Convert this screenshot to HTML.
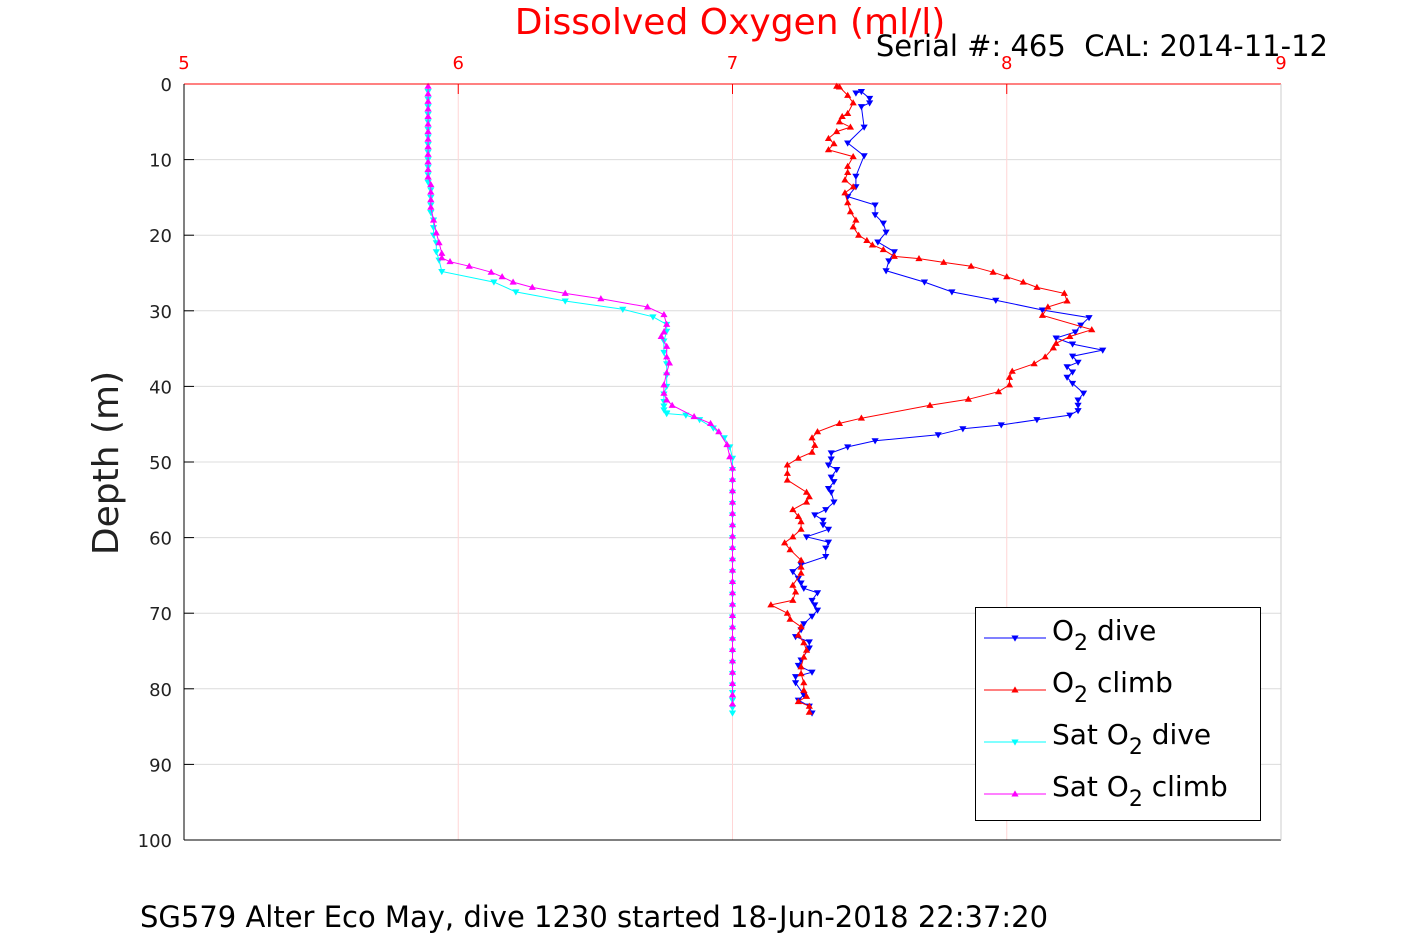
<!DOCTYPE html>
<html><head><meta charset="utf-8"><style>
body{margin:0;background:#fff;}
svg text{font-family:"DejaVu Sans","Liberation Sans",sans-serif;}
</style></head><body>
<svg id="chart" width="1417" height="945" xmlns="http://www.w3.org/2000/svg">
<rect width="1417" height="945" fill="#fff"/>
<g id="grid"></g>
<g id="series"></g>
<g id="axes"></g>
<text x="730" y="34" font-size="36" fill="#ff0000" text-anchor="middle">Dissolved Oxygen (ml/l)</text>
<text x="1328" y="56" font-size="29" fill="#000" text-anchor="end">Serial #: 465&#160;&#160;CAL: 2014-11-12</text>
<text transform="translate(118,463) rotate(-90)" font-size="36" fill="#222" text-anchor="middle">Depth (m)</text>
<text x="140" y="927" font-size="29" fill="#000">SG579 Alter Eco May, dive 1230 started 18-Jun-2018 22:37:20</text>
<g>
<rect x="975.5" y="607.5" width="285" height="213" fill="#fff" stroke="#000" stroke-width="1"/>
<g id="legend-items"></g>
</g>
</svg>
<script>
const xTicks=[5,6,7,8,9];
const yTicks=[0,10,20,30,40,50,60,70,80,90,100];
const o2DiveVal=[7.45,7.47,7.50,7.50,7.47,7.48,7.42,7.48,7.45,7.45,7.42,7.52,7.52,7.55,7.56,7.53,7.59,7.57,7.56,7.70,7.80,7.96,8.13,8.30,8.27,8.25,8.18,8.24,8.35,8.24,8.26,8.22,8.24,8.22,8.24,8.28,8.26,8.26,8.26,8.23,8.11,7.98,7.84,7.75,7.52,7.42,7.36,7.36,7.35,7.38,7.36,7.37,7.35,7.36,7.37,7.34,7.30,7.33,7.33,7.35,7.27,7.35,7.34,7.34,7.25,7.22,7.24,7.25,7.26,7.31,7.29,7.30,7.31,7.29,7.26,7.25,7.23,7.28,7.28,7.25,7.24,7.29,7.23,7.23,7.26,7.24,7.28,7.29];
const o2DiveDepth=[1.2,1.0,1.9,2.5,3.0,5.7,7.8,9.5,12.2,13.6,14.9,16.0,17.3,18.4,19.6,20.9,22.2,23.4,24.7,26.2,27.5,28.6,29.9,30.9,31.9,32.8,33.6,34.4,35.2,36.0,36.8,37.4,38.1,38.8,39.6,40.9,41.8,42.5,43.2,43.8,44.4,45.1,45.6,46.4,47.2,48.0,48.8,49.6,50.4,51.0,52.0,52.6,53.5,54.0,55.3,56.3,57.0,57.7,58.3,58.9,59.9,60.6,61.4,62.5,63.6,64.5,65.4,66.0,66.7,67.3,68.3,68.9,69.6,70.4,71.4,72.2,73.1,73.8,74.6,76.2,76.9,77.8,78.4,79.2,80.8,81.5,82.3,83.2];
const o2ClimbVal=[7.38,7.39,7.42,7.44,7.42,7.40,7.39,7.43,7.38,7.35,7.37,7.35,7.44,7.42,7.42,7.41,7.44,7.41,7.42,7.43,7.45,7.44,7.46,7.49,7.51,7.55,7.59,7.68,7.77,7.87,7.95,8.00,8.06,8.11,8.21,8.22,8.15,8.13,8.31,8.23,8.18,8.17,8.14,8.10,8.02,8.01,8.01,7.97,7.86,7.72,7.47,7.39,7.31,7.29,7.30,7.29,7.24,7.20,7.20,7.20,7.27,7.28,7.27,7.22,7.24,7.25,7.25,7.22,7.19,7.21,7.25,7.25,7.25,7.22,7.23,7.22,7.14,7.20,7.21,7.25,7.24,7.26,7.27,7.26,7.25,7.25,7.26,7.26,7.27,7.24,7.28,7.28];
const o2ClimbDepth=[0.3,0.4,1.5,2.5,3.9,4.3,5.0,5.7,6.3,7.2,7.9,8.7,9.6,10.9,11.7,12.7,13.6,14.4,15.7,16.9,18.0,18.9,20.0,20.7,21.3,21.9,22.8,23.1,23.6,24.1,24.9,25.5,26.2,26.9,27.7,28.7,29.5,30.6,32.5,33.4,34.3,34.9,36.1,37.0,38.0,38.8,39.8,40.7,41.7,42.5,44.2,44.9,46.0,46.8,47.8,48.7,49.5,50.4,51.5,52.4,54.0,54.6,55.3,56.3,57.2,57.9,58.9,59.9,60.7,61.6,63.0,63.9,64.7,66.3,67.2,68.3,68.9,70.0,70.8,71.8,72.9,73.9,74.9,75.8,77.1,78.0,79.2,80.2,81.0,81.7,82.3,83.1];
const satDiveVal=[5.89,5.89,5.89,5.89,5.89,5.89,5.89,5.89,5.89,5.89,5.89,5.89,5.89,5.90,5.90,5.90,5.90,5.91,5.91,5.91,5.92,5.92,5.93,5.94,6.13,6.21,6.39,6.60,6.71,6.76,6.76,6.75,6.75,6.76,6.76,6.76,6.75,6.75,6.75,6.75,6.76,6.76,6.83,6.88,6.93,6.97,6.99,7.00,7.00,7.00,7.00,7.00,7.00,7.00,7.00,7.00,7.00,7.00,7.00,7.00,7.00,7.00,7.00,7.00,7.00,7.00,7.00,7.00,7.00,7.00,7.00,7.00];
const satDiveDepth=[1.0,2.0,3.0,4.0,5.0,6.0,7.0,8.0,9.0,10.0,11.0,12.0,13.0,14.0,15.0,16.0,17.0,18.0,19.0,20.0,21.0,22.2,23.3,24.8,26.2,27.5,28.7,29.8,30.8,31.8,32.7,34.0,35.5,37.0,38.5,40.0,41.0,42.0,42.6,43.1,43.5,43.6,43.8,44.4,45.5,46.8,48.0,49.5,51.0,52.5,54.0,55.5,57.0,58.5,60.0,61.5,63.0,64.5,66.0,67.5,69.0,70.5,72.0,73.5,75.0,76.5,78.0,79.5,80.5,81.5,82.5,83.2];
const satClimbVal=[5.89,5.89,5.89,5.89,5.89,5.89,5.89,5.89,5.89,5.89,5.89,5.89,5.89,5.90,5.90,5.90,5.90,5.91,5.92,5.93,5.94,5.94,5.97,6.04,6.12,6.16,6.20,6.27,6.39,6.52,6.69,6.75,6.76,6.75,6.74,6.76,6.76,6.77,6.76,6.75,6.75,6.76,6.78,6.86,6.92,6.95,6.98,6.99,7.00,7.00,7.00,7.00,7.00,7.00,7.00,7.00,7.00,7.00,7.00,7.00,7.00,7.00,7.00,7.00,7.00,7.00,7.00,7.00,7.00,7.00];
const satClimbDepth=[0.3,1.3,2.3,3.3,4.3,5.3,6.3,7.3,8.3,9.3,10.3,11.3,12.3,13.3,14.3,15.3,16.3,18.0,19.7,21.0,22.4,23.0,23.5,24.1,24.9,25.5,26.2,26.9,27.7,28.4,29.5,30.5,31.8,32.8,33.4,34.7,36.1,36.9,38.2,39.8,40.9,41.8,42.5,44.0,44.9,46.0,47.7,49.3,50.8,52.3,53.8,55.3,56.8,58.3,59.8,61.3,62.8,64.3,65.8,67.3,68.8,70.3,71.8,73.3,74.8,76.3,77.8,79.3,80.8,82.0,82.8,83.1];

const X0=184,X1=1281,Y0=84,Y1=840;
const xs=v=>X0+(v-5)/4*(X1-X0);
const ys=d=>Y0+d/100*(Y1-Y0);
const NS='http://www.w3.org/2000/svg';
function mk(tag,attrs,parent){const e=document.createElementNS(NS,tag);for(const k in attrs)e.setAttribute(k,attrs[k]);parent.appendChild(e);return e;}
const grid=document.getElementById('grid'),axes=document.getElementById('axes'),ser=document.getElementById('series');
yTicks.forEach(t=>{
  if(t>0&&t<100){const l=mk('line',{x1:X0,x2:X1,y1:ys(t),y2:ys(t),stroke:'#dcdcdc','stroke-width':1},grid);
  
  }
  const tk=mk('line',{x1:X0,x2:X0+10,y1:ys(t),y2:ys(t),stroke:'#000','stroke-width':1},axes);
  
  
  const tx=mk('text',{x:X0-12,y:ys(t)+7,'font-size':18,'text-anchor':'end',fill:'#222'},axes);
  tx.textContent=t;
  
  
});
xTicks.forEach(t=>{
  if(t>5&&t<9){const l=mk('line',{x1:xs(t),x2:xs(t),y1:Y0,y2:Y1,stroke:'#ffd6d6','stroke-width':1},grid);
  
  }
  const tk=mk('line',{x1:xs(t),x2:xs(t),y1:Y0,y2:Y0+10,stroke:'#ff0000','stroke-width':1},axes);
  
  
  const tx=mk('text',{x:xs(t),y:Y0-15,'font-size':18,'text-anchor':'middle',fill:'#ff0000'},axes);
  tx.textContent=t;
  
  
});
const ax=[['top-axis',X0,Y0,X1,Y0,'#ff0000'],['left-axis',X0,Y0,X0,Y1,'#000'],['bottom-axis',X0,Y1,X1,Y1,'#000'],['right-axis',X1,Y0,X1,Y1,'#ccc']];
ax.forEach(a=>{const l=mk('line',{x1:a[1],y1:a[2],x2:a[3],y2:a[4],stroke:a[5],'stroke-width':1},axes);
  
  });
function tri(x,y,down,s){return down?`${x-s},${y-s*0.7} ${x+s},${y-s*0.7} ${x},${y+s}`:`${x-s},${y+s*0.7} ${x+s},${y+s*0.7} ${x},${y-s}`;}
function series(name,vals,deps,color,down){
  const g=mk('g',{},ser);
  
  
  const pts=vals.map((v,i)=>xs(v).toFixed(1)+','+ys(deps[i]).toFixed(1)).join(' ');
  const pl=mk('polyline',{points:pts,fill:'none',stroke:color,'stroke-width':1},g);
  
  
  vals.forEach((v,i)=>{const p=mk('polygon',{points:tri(xs(v),ys(deps[i]),down,3.6),fill:color},g);
    
    });
}
series('sat-o2-dive',satDiveVal,satDiveDepth,'#00ffff',true);
series('sat-o2-climb',satClimbVal,satClimbDepth,'#ff00ff',false);
series('o2-dive',o2DiveVal,o2DiveDepth,'#0000ff',true);
series('o2-climb',o2ClimbVal,o2ClimbDepth,'#ff0000',false);
const leg=document.getElementById('legend-items');
const legItems=[['O','2',' dive','','#0000ff',true],['O','2',' climb','','#ff0000',false],['Sat O','2',' dive','','#00ffff',true],['Sat O','2',' climb','','#ff00ff',false]];
legItems.forEach((it,i)=>{
  const y=638+i*52;
  const g=mk('g',{},leg);
  
  
  mk('line',{x1:984,x2:1046,y1:y,y2:y,stroke:it[4],'stroke-width':1},g);
  mk('polygon',{points:tri(1015,y,it[5],3.6),fill:it[4]},g);
  const t=mk('text',{x:1052,y:y+2,'font-size':28,fill:'#000'},g);
  const a=mk('tspan',{},t);a.textContent=it[0];
  const b=mk('tspan',{dy:10,'font-size':22},t);b.textContent=it[1];
  const c=mk('tspan',{dy:-10},t);c.textContent=it[2];
});
</script>
</body></html>
